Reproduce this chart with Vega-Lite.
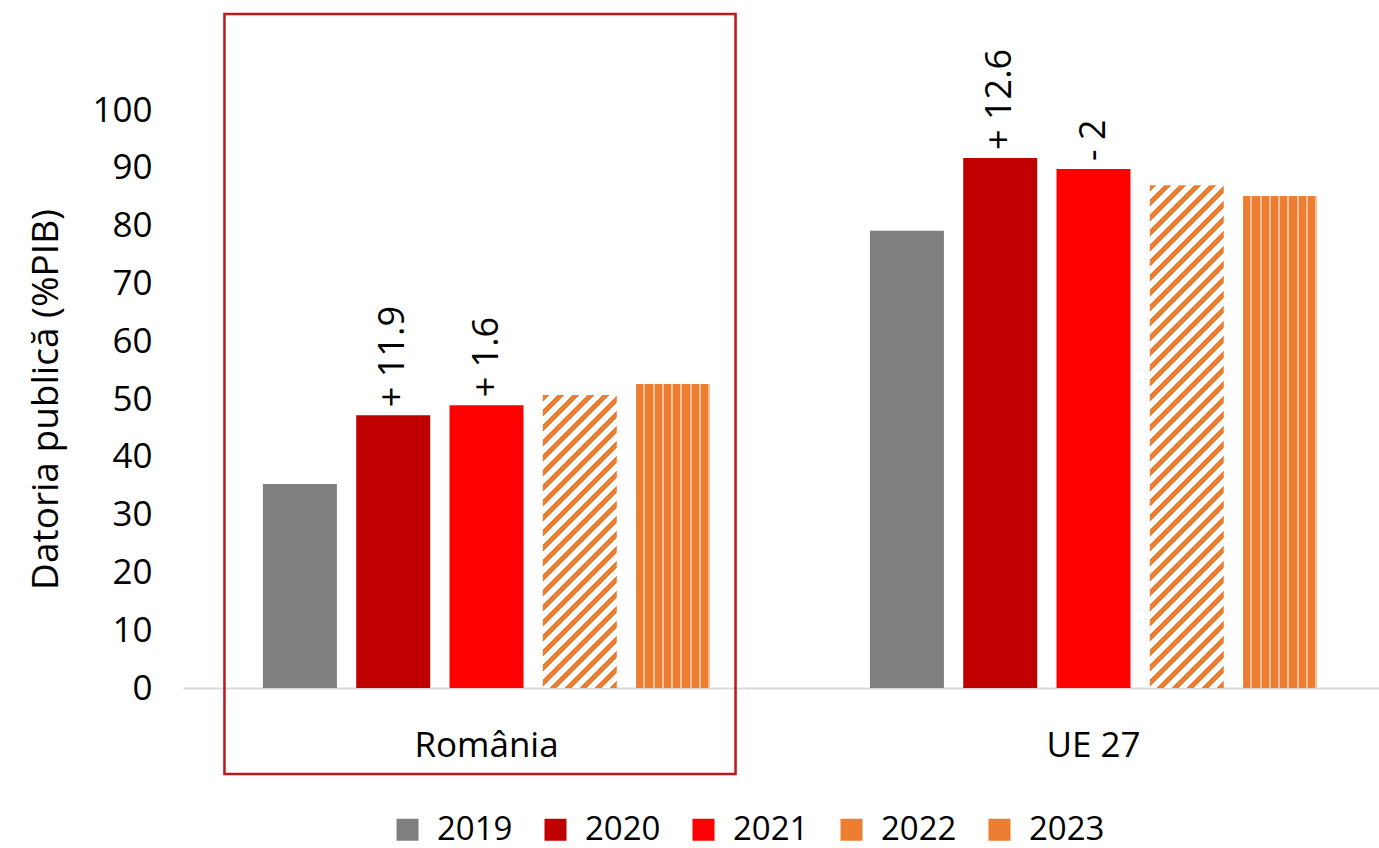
{
  "$schema": "https://vega.github.io/schema/vega-lite/v6.json",
  "autosize": {"type": "none"},
  "padding": {"left": 183, "top": 110, "right": 0, "bottom": 160},
  "width": 1196,
  "height": 578,
  "config": {
    "view": {"stroke": null},
    "font": "Open Sans",
    "axis": {"labelColor": "#000000", "titleColor": "#000000", "labelFont": "Open Sans", "titleFont": "Open Sans"},
    "legend": {"labelColor": "#000000", "labelFont": "Open Sans"}
  },
  "data": {
    "values": [
      {"country": "România", "year": "2019", "value": 35.3, "label": null},
      {"country": "România", "year": "2020", "value": 47.2, "label": "+ 11.9"},
      {"country": "România", "year": "2021", "value": 48.9, "label": "+ 1.6"},
      {"country": "România", "year": "2022", "value": 50.7, "label": null},
      {"country": "România", "year": "2023", "value": 52.6, "label": null},
      {"country": "UE 27", "year": "2019", "value": 79.1, "label": null},
      {"country": "UE 27", "year": "2020", "value": 91.7, "label": "+ 12.6"},
      {"country": "UE 27", "year": "2021", "value": 89.8, "label": "- 2"},
      {"country": "UE 27", "year": "2022", "value": 87.0, "label": null},
      {"country": "UE 27", "year": "2023", "value": 85.1, "label": null}
    ]
  },
  "encoding": {
    "x": {
      "field": "country", "type": "nominal", "sort": ["România", "UE 27"],
      "scale": {"range": [0, 1214], "paddingInner": 0, "paddingOuter": 0},
      "axis": {"title": null, "labelAngle": 0, "labelFontSize": 35, "labelPadding": 40, "domainColor": "#d9d9d9", "domainWidth": 2, "ticks": false, "grid": false}
    },
    "y": {
      "field": "value", "type": "quantitative",
      "scale": {"domain": [0, 100], "nice": false},
      "axis": {"title": "Datoria publică (%PIB)", "values": [0, 10, 20, 30, 40, 50, 60, 70, 80, 90, 100], "labelFontSize": 35, "labelPadding": 31, "titleFontSize": 37, "titleFontWeight": "normal", "titlePadding": 26, "domain": false, "ticks": false, "grid": false}
    }
  },
  "layer": [
    {
      "mark": {"type": "bar"},
      "encoding": {
        "xOffset": {"field": "year", "type": "nominal", "scale": {"paddingInner": 0.207, "paddingOuter": 0.857}},
        "color": {
          "field": "year", "type": "nominal",
          "scale": {"domain": ["2019", "2020", "2021", "2022", "2023"], "range": ["#7f7f7f", "#c00000", "#ff0000", "#ed7d31", "#ed7d31"]},
          "legend": {
            "title": null, "orient": "none", "legendX": 208, "legendY": 703, "direction": "horizontal",
            "symbolType": "square", "symbolSize": 484, "symbolStrokeWidth": 0, "labelFontSize": 33, "labelOffset": 13, "columnPadding": 26
          },
          "condition": [
            {"test": "datum.year === '2022' && datum.country === 'România'", "value": {"gradient": "linear", "x1": 0, "y1": 0, "x2": 0.30386, "y2": 1.2031, "stops": [
              {"offset": 0, "color": "#ed7d31"}, {"offset": 0.018, "color": "#ed7d31"}, {"offset": 0.018, "color": "#ffffff"}, {"offset": 0.04, "color": "#ffffff"},
              {"offset": 0.04, "color": "#ed7d31"}, {"offset": 0.058, "color": "#ed7d31"}, {"offset": 0.058, "color": "#ffffff"}, {"offset": 0.08, "color": "#ffffff"},
              {"offset": 0.08, "color": "#ed7d31"}, {"offset": 0.098, "color": "#ed7d31"}, {"offset": 0.098, "color": "#ffffff"}, {"offset": 0.12, "color": "#ffffff"},
              {"offset": 0.12, "color": "#ed7d31"}, {"offset": 0.138, "color": "#ed7d31"}, {"offset": 0.138, "color": "#ffffff"}, {"offset": 0.16, "color": "#ffffff"},
              {"offset": 0.16, "color": "#ed7d31"}, {"offset": 0.178, "color": "#ed7d31"}, {"offset": 0.178, "color": "#ffffff"}, {"offset": 0.2, "color": "#ffffff"},
              {"offset": 0.2, "color": "#ed7d31"}, {"offset": 0.218, "color": "#ed7d31"}, {"offset": 0.218, "color": "#ffffff"}, {"offset": 0.24, "color": "#ffffff"},
              {"offset": 0.24, "color": "#ed7d31"}, {"offset": 0.258, "color": "#ed7d31"}, {"offset": 0.258, "color": "#ffffff"}, {"offset": 0.28, "color": "#ffffff"},
              {"offset": 0.28, "color": "#ed7d31"}, {"offset": 0.298, "color": "#ed7d31"}, {"offset": 0.298, "color": "#ffffff"}, {"offset": 0.32, "color": "#ffffff"},
              {"offset": 0.32, "color": "#ed7d31"}, {"offset": 0.338, "color": "#ed7d31"}, {"offset": 0.338, "color": "#ffffff"}, {"offset": 0.36, "color": "#ffffff"},
              {"offset": 0.36, "color": "#ed7d31"}, {"offset": 0.378, "color": "#ed7d31"}, {"offset": 0.378, "color": "#ffffff"}, {"offset": 0.4, "color": "#ffffff"},
              {"offset": 0.4, "color": "#ed7d31"}, {"offset": 0.418, "color": "#ed7d31"}, {"offset": 0.418, "color": "#ffffff"}, {"offset": 0.44, "color": "#ffffff"},
              {"offset": 0.44, "color": "#ed7d31"}, {"offset": 0.458, "color": "#ed7d31"}, {"offset": 0.458, "color": "#ffffff"}, {"offset": 0.48, "color": "#ffffff"},
              {"offset": 0.48, "color": "#ed7d31"}, {"offset": 0.498, "color": "#ed7d31"}, {"offset": 0.498, "color": "#ffffff"}, {"offset": 0.52, "color": "#ffffff"},
              {"offset": 0.52, "color": "#ed7d31"}, {"offset": 0.538, "color": "#ed7d31"}, {"offset": 0.538, "color": "#ffffff"}, {"offset": 0.56, "color": "#ffffff"},
              {"offset": 0.56, "color": "#ed7d31"}, {"offset": 0.578, "color": "#ed7d31"}, {"offset": 0.578, "color": "#ffffff"}, {"offset": 0.6, "color": "#ffffff"},
              {"offset": 0.6, "color": "#ed7d31"}, {"offset": 0.618, "color": "#ed7d31"}, {"offset": 0.618, "color": "#ffffff"}, {"offset": 0.64, "color": "#ffffff"},
              {"offset": 0.64, "color": "#ed7d31"}, {"offset": 0.658, "color": "#ed7d31"}, {"offset": 0.658, "color": "#ffffff"}, {"offset": 0.68, "color": "#ffffff"},
              {"offset": 0.68, "color": "#ed7d31"}, {"offset": 0.698, "color": "#ed7d31"}, {"offset": 0.698, "color": "#ffffff"}, {"offset": 0.72, "color": "#ffffff"},
              {"offset": 0.72, "color": "#ed7d31"}, {"offset": 0.738, "color": "#ed7d31"}, {"offset": 0.738, "color": "#ffffff"}, {"offset": 0.76, "color": "#ffffff"},
              {"offset": 0.76, "color": "#ed7d31"}, {"offset": 0.778, "color": "#ed7d31"}, {"offset": 0.778, "color": "#ffffff"}, {"offset": 0.8, "color": "#ffffff"},
              {"offset": 0.8, "color": "#ed7d31"}, {"offset": 0.818, "color": "#ed7d31"}, {"offset": 0.818, "color": "#ffffff"}, {"offset": 0.84, "color": "#ffffff"},
              {"offset": 0.84, "color": "#ed7d31"}, {"offset": 0.858, "color": "#ed7d31"}, {"offset": 0.858, "color": "#ffffff"}, {"offset": 0.88, "color": "#ffffff"},
              {"offset": 0.88, "color": "#ed7d31"}, {"offset": 0.898, "color": "#ed7d31"}, {"offset": 0.898, "color": "#ffffff"}, {"offset": 0.92, "color": "#ffffff"},
              {"offset": 0.92, "color": "#ed7d31"}, {"offset": 0.938, "color": "#ed7d31"}, {"offset": 0.938, "color": "#ffffff"}, {"offset": 0.96, "color": "#ffffff"},
              {"offset": 0.96, "color": "#ed7d31"}, {"offset": 0.978, "color": "#ed7d31"}, {"offset": 0.978, "color": "#ffffff"}, {"offset": 1, "color": "#ffffff"}]}},
            {"test": "datum.year === '2022' && datum.country === 'UE 27'", "value": {"gradient": "linear", "x1": 0, "y1": 0, "x2": 0.17184, "y2": 1.168, "stops": [
              {"offset": 0, "color": "#ed7d31"}, {"offset": 0.011, "color": "#ed7d31"}, {"offset": 0.011, "color": "#ffffff"}, {"offset": 0.025, "color": "#ffffff"},
              {"offset": 0.025, "color": "#ed7d31"}, {"offset": 0.036, "color": "#ed7d31"}, {"offset": 0.036, "color": "#ffffff"}, {"offset": 0.05, "color": "#ffffff"},
              {"offset": 0.05, "color": "#ed7d31"}, {"offset": 0.061, "color": "#ed7d31"}, {"offset": 0.061, "color": "#ffffff"}, {"offset": 0.075, "color": "#ffffff"},
              {"offset": 0.075, "color": "#ed7d31"}, {"offset": 0.086, "color": "#ed7d31"}, {"offset": 0.086, "color": "#ffffff"}, {"offset": 0.1, "color": "#ffffff"},
              {"offset": 0.1, "color": "#ed7d31"}, {"offset": 0.111, "color": "#ed7d31"}, {"offset": 0.111, "color": "#ffffff"}, {"offset": 0.125, "color": "#ffffff"},
              {"offset": 0.125, "color": "#ed7d31"}, {"offset": 0.136, "color": "#ed7d31"}, {"offset": 0.136, "color": "#ffffff"}, {"offset": 0.15, "color": "#ffffff"},
              {"offset": 0.15, "color": "#ed7d31"}, {"offset": 0.161, "color": "#ed7d31"}, {"offset": 0.161, "color": "#ffffff"}, {"offset": 0.175, "color": "#ffffff"},
              {"offset": 0.175, "color": "#ed7d31"}, {"offset": 0.186, "color": "#ed7d31"}, {"offset": 0.186, "color": "#ffffff"}, {"offset": 0.2, "color": "#ffffff"},
              {"offset": 0.2, "color": "#ed7d31"}, {"offset": 0.211, "color": "#ed7d31"}, {"offset": 0.211, "color": "#ffffff"}, {"offset": 0.225, "color": "#ffffff"},
              {"offset": 0.225, "color": "#ed7d31"}, {"offset": 0.236, "color": "#ed7d31"}, {"offset": 0.236, "color": "#ffffff"}, {"offset": 0.25, "color": "#ffffff"},
              {"offset": 0.25, "color": "#ed7d31"}, {"offset": 0.261, "color": "#ed7d31"}, {"offset": 0.261, "color": "#ffffff"}, {"offset": 0.275, "color": "#ffffff"},
              {"offset": 0.275, "color": "#ed7d31"}, {"offset": 0.286, "color": "#ed7d31"}, {"offset": 0.286, "color": "#ffffff"}, {"offset": 0.3, "color": "#ffffff"},
              {"offset": 0.3, "color": "#ed7d31"}, {"offset": 0.311, "color": "#ed7d31"}, {"offset": 0.311, "color": "#ffffff"}, {"offset": 0.325, "color": "#ffffff"},
              {"offset": 0.325, "color": "#ed7d31"}, {"offset": 0.336, "color": "#ed7d31"}, {"offset": 0.336, "color": "#ffffff"}, {"offset": 0.35, "color": "#ffffff"},
              {"offset": 0.35, "color": "#ed7d31"}, {"offset": 0.361, "color": "#ed7d31"}, {"offset": 0.361, "color": "#ffffff"}, {"offset": 0.375, "color": "#ffffff"},
              {"offset": 0.375, "color": "#ed7d31"}, {"offset": 0.386, "color": "#ed7d31"}, {"offset": 0.386, "color": "#ffffff"}, {"offset": 0.4, "color": "#ffffff"},
              {"offset": 0.4, "color": "#ed7d31"}, {"offset": 0.411, "color": "#ed7d31"}, {"offset": 0.411, "color": "#ffffff"}, {"offset": 0.425, "color": "#ffffff"},
              {"offset": 0.425, "color": "#ed7d31"}, {"offset": 0.436, "color": "#ed7d31"}, {"offset": 0.436, "color": "#ffffff"}, {"offset": 0.45, "color": "#ffffff"},
              {"offset": 0.45, "color": "#ed7d31"}, {"offset": 0.461, "color": "#ed7d31"}, {"offset": 0.461, "color": "#ffffff"}, {"offset": 0.475, "color": "#ffffff"},
              {"offset": 0.475, "color": "#ed7d31"}, {"offset": 0.486, "color": "#ed7d31"}, {"offset": 0.486, "color": "#ffffff"}, {"offset": 0.5, "color": "#ffffff"},
              {"offset": 0.5, "color": "#ed7d31"}, {"offset": 0.511, "color": "#ed7d31"}, {"offset": 0.511, "color": "#ffffff"}, {"offset": 0.525, "color": "#ffffff"},
              {"offset": 0.525, "color": "#ed7d31"}, {"offset": 0.536, "color": "#ed7d31"}, {"offset": 0.536, "color": "#ffffff"}, {"offset": 0.55, "color": "#ffffff"},
              {"offset": 0.55, "color": "#ed7d31"}, {"offset": 0.561, "color": "#ed7d31"}, {"offset": 0.561, "color": "#ffffff"}, {"offset": 0.575, "color": "#ffffff"},
              {"offset": 0.575, "color": "#ed7d31"}, {"offset": 0.586, "color": "#ed7d31"}, {"offset": 0.586, "color": "#ffffff"}, {"offset": 0.6, "color": "#ffffff"},
              {"offset": 0.6, "color": "#ed7d31"}, {"offset": 0.611, "color": "#ed7d31"}, {"offset": 0.611, "color": "#ffffff"}, {"offset": 0.625, "color": "#ffffff"},
              {"offset": 0.625, "color": "#ed7d31"}, {"offset": 0.636, "color": "#ed7d31"}, {"offset": 0.636, "color": "#ffffff"}, {"offset": 0.65, "color": "#ffffff"},
              {"offset": 0.65, "color": "#ed7d31"}, {"offset": 0.661, "color": "#ed7d31"}, {"offset": 0.661, "color": "#ffffff"}, {"offset": 0.675, "color": "#ffffff"},
              {"offset": 0.675, "color": "#ed7d31"}, {"offset": 0.686, "color": "#ed7d31"}, {"offset": 0.686, "color": "#ffffff"}, {"offset": 0.7, "color": "#ffffff"},
              {"offset": 0.7, "color": "#ed7d31"}, {"offset": 0.711, "color": "#ed7d31"}, {"offset": 0.711, "color": "#ffffff"}, {"offset": 0.725, "color": "#ffffff"},
              {"offset": 0.725, "color": "#ed7d31"}, {"offset": 0.736, "color": "#ed7d31"}, {"offset": 0.736, "color": "#ffffff"}, {"offset": 0.75, "color": "#ffffff"},
              {"offset": 0.75, "color": "#ed7d31"}, {"offset": 0.761, "color": "#ed7d31"}, {"offset": 0.761, "color": "#ffffff"}, {"offset": 0.775, "color": "#ffffff"},
              {"offset": 0.775, "color": "#ed7d31"}, {"offset": 0.786, "color": "#ed7d31"}, {"offset": 0.786, "color": "#ffffff"}, {"offset": 0.8, "color": "#ffffff"},
              {"offset": 0.8, "color": "#ed7d31"}, {"offset": 0.811, "color": "#ed7d31"}, {"offset": 0.811, "color": "#ffffff"}, {"offset": 0.825, "color": "#ffffff"},
              {"offset": 0.825, "color": "#ed7d31"}, {"offset": 0.836, "color": "#ed7d31"}, {"offset": 0.836, "color": "#ffffff"}, {"offset": 0.85, "color": "#ffffff"},
              {"offset": 0.85, "color": "#ed7d31"}, {"offset": 0.861, "color": "#ed7d31"}, {"offset": 0.861, "color": "#ffffff"}, {"offset": 0.875, "color": "#ffffff"},
              {"offset": 0.875, "color": "#ed7d31"}, {"offset": 0.886, "color": "#ed7d31"}, {"offset": 0.886, "color": "#ffffff"}, {"offset": 0.9, "color": "#ffffff"},
              {"offset": 0.9, "color": "#ed7d31"}, {"offset": 0.911, "color": "#ed7d31"}, {"offset": 0.911, "color": "#ffffff"}, {"offset": 0.925, "color": "#ffffff"},
              {"offset": 0.925, "color": "#ed7d31"}, {"offset": 0.936, "color": "#ed7d31"}, {"offset": 0.936, "color": "#ffffff"}, {"offset": 0.95, "color": "#ffffff"},
              {"offset": 0.95, "color": "#ed7d31"}, {"offset": 0.961, "color": "#ed7d31"}, {"offset": 0.961, "color": "#ffffff"}, {"offset": 0.975, "color": "#ffffff"},
              {"offset": 0.975, "color": "#ed7d31"}, {"offset": 0.986, "color": "#ed7d31"}, {"offset": 0.986, "color": "#ffffff"}, {"offset": 1, "color": "#ffffff"}]}},
            {"test": "datum.year === '2023'", "value": {"gradient": "linear", "x1": 0, "y1": 0, "x2": 1, "y2": 0, "stops": [
              {"offset": 0, "color": "#ed7d31"}, {"offset": 0.1, "color": "#ed7d31"}, {"offset": 0.1, "color": "#f7c09a"}, {"offset": 0.125, "color": "#f7c09a"},
              {"offset": 0.125, "color": "#ed7d31"}, {"offset": 0.225, "color": "#ed7d31"}, {"offset": 0.225, "color": "#f7c09a"}, {"offset": 0.25, "color": "#f7c09a"},
              {"offset": 0.25, "color": "#ed7d31"}, {"offset": 0.35, "color": "#ed7d31"}, {"offset": 0.35, "color": "#f7c09a"}, {"offset": 0.375, "color": "#f7c09a"},
              {"offset": 0.375, "color": "#ed7d31"}, {"offset": 0.475, "color": "#ed7d31"}, {"offset": 0.475, "color": "#f7c09a"}, {"offset": 0.5, "color": "#f7c09a"},
              {"offset": 0.5, "color": "#ed7d31"}, {"offset": 0.6, "color": "#ed7d31"}, {"offset": 0.6, "color": "#f7c09a"}, {"offset": 0.625, "color": "#f7c09a"},
              {"offset": 0.625, "color": "#ed7d31"}, {"offset": 0.725, "color": "#ed7d31"}, {"offset": 0.725, "color": "#f7c09a"}, {"offset": 0.75, "color": "#f7c09a"},
              {"offset": 0.75, "color": "#ed7d31"}, {"offset": 0.85, "color": "#ed7d31"}, {"offset": 0.85, "color": "#f7c09a"}, {"offset": 0.875, "color": "#f7c09a"},
              {"offset": 0.875, "color": "#ed7d31"}, {"offset": 0.975, "color": "#ed7d31"}, {"offset": 0.975, "color": "#f7c09a"}, {"offset": 1, "color": "#f7c09a"}]}}
          ]
        }
      }
    },
    {
      "transform": [{"filter": "datum.label != null"}],
      "mark": {"type": "text", "angle": 270, "align": "left", "baseline": "middle", "dx": 8, "font": "Open Sans", "fontSize": 36, "color": "#000000"},
      "encoding": {
        "xOffset": {"field": "year", "type": "nominal"},
        "text": {"field": "label", "type": "nominal"}
      }
    },
    {
      "transform": [{"filter": "datum.country === 'România' && datum.year === '2019'"}],
      "mark": {"type": "rect", "filled": false, "stroke": "#c0161c", "strokeWidth": 2.5, "width": {"band": 0.842}, "xOffset": -6.5, "clip": false},
      "encoding": {
        "x": {"field": "country", "type": "nominal"},
        "y": {"datum": 116.6, "type": "quantitative"},
        "y2": {"datum": -14.9}
      }
    }
  ]
}
